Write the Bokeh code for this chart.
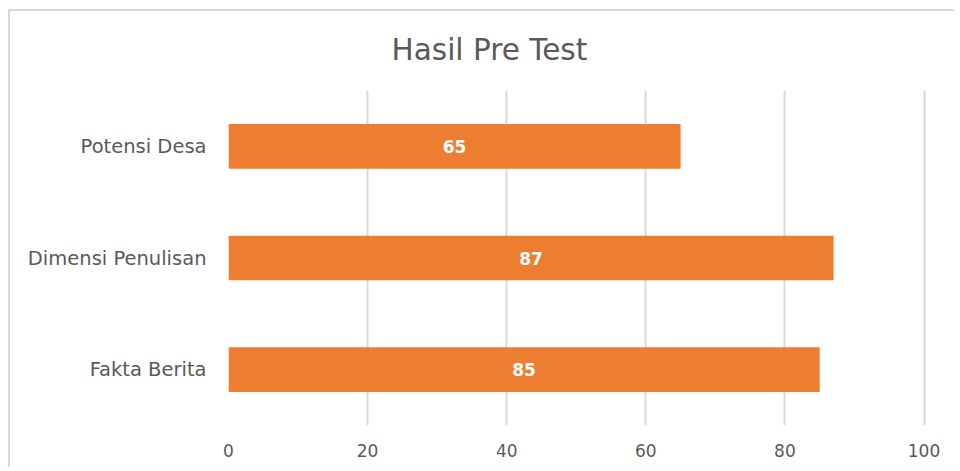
from bokeh.plotting import figure
from bokeh.models import ColumnDataSource
from bokeh.core.properties import value
from bokeh.embed import file_html
from bokeh.resources import INLINE

categories = ["Potensi Desa", "Dimensi Penulisan", "Fakta Berita"]
scores = [65, 87, 85]
x_ticks = [0, 20, 40, 60, 80, 100]

src = ColumnDataSource(dict(
    cat=categories,
    val=scores,
    mid=[v / 2 for v in scores],
    lbl=[str(v) for v in scores],
))

p = figure(
    width=946, height=458,
    y_range=list(reversed(categories)),
    x_range=(0, 100.5),
    output_backend="svg",
    toolbar_location=None,
    min_border_left=218, min_border_right=29,
    min_border_top=79, min_border_bottom=44,
    title="Hasil Pre Test",
)
p.styles = {
    "margin-left": "8px", "margin-top": "9px",
    "border-left": "2px solid #d9d9d9", "border-top": "2px solid #d9d9d9",
}

p.hbar(y="cat", right="val", left=0, height=0.4, source=src,
       fill_color="#ED7D31", line_color=None)
p.text(x="mid", y="cat", text="lbl", source=src,
       text_color="white", text_font=value("DejaVu Sans"),
       text_font_style="bold", text_font_size="17px",
       text_align="center", text_baseline="middle")

p.title.text_font = "DejaVu Sans"
p.title.text_font_size = "29.5px"
p.title.text_font_style = "normal"
p.title.text_color = "#595959"
p.title.align = "left"
p.title.vertical_align = "top"
p.title.offset = 163
p.title.standoff = 43

p.outline_line_color = None
p.ygrid.grid_line_color = None
p.xgrid.grid_line_color = "#d9d9d9"
p.xgrid.grid_line_width = 2
p.xaxis.ticker = x_ticks

for ax in (p.xaxis, p.yaxis):
    ax.axis_line_color = None
    ax.major_tick_line_color = None
    ax.minor_tick_line_color = None
    ax.major_label_text_color = "#595959"

p.xaxis.major_label_text_font = "DejaVu Sans"
p.xaxis.major_label_text_font_size = "17px"
p.xaxis.major_label_standoff = 12
p.yaxis.major_label_text_font = "DejaVu Sans"
p.yaxis.major_label_text_font_size = "19.5px"
p.yaxis.major_label_standoff = 16

open("out.html", "w").write(file_html(p, INLINE))
